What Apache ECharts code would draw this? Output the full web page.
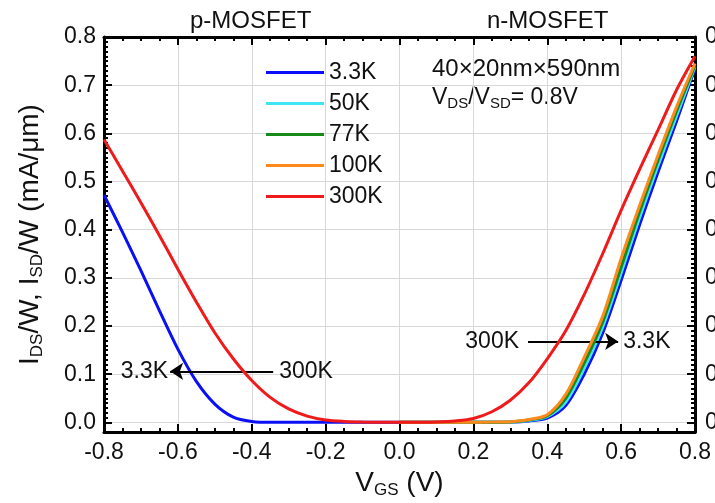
<!DOCTYPE html>
<html>
<head>
<meta charset="utf-8">
<script src="https://cdn.jsdelivr.net/npm/echarts@6/dist/echarts.min.js"></script>
<style>html,body{margin:0;padding:0;background:#fff}#c{width:715px;height:503px}</style>
</head>
<body>
<div id="c"></div>
<script>
// Gate voltage grid (V)
const vgs = [-0.8,-0.75,-0.7,-0.65,-0.6,-0.55,-0.5,-0.45,-0.4,-0.35,-0.3,-0.25,-0.2,-0.15,-0.1,-0.05,0,0.05,0.1,0.15,0.2,0.25,0.3,0.35,0.4,0.45,0.5,0.55,0.6,0.65,0.7,0.75,0.8];
// Current per width (mA/um)
const k3_3 = [0.472,0.395,0.315,0.232,0.152,0.085,0.038,0.011,0.002,0,0,0,0,0,0,0,0,0,0,0,0,0,0.0005,0.003,0.009,0.035,0.100,0.185,0.295,0.410,0.520,0.625,0.735];
const k50  = [null,null,null,null,null,null,null,null,null,null,null,null,null,null,null,null,0,0,0,0,0,0,0.0008,0.004,0.012,0.042,0.112,0.198,0.310,0.425,0.533,0.636,0.738];
const k77  = [null,null,null,null,null,null,null,null,null,null,null,null,null,null,null,null,0,0,0,0,0,0.0002,0.001,0.005,0.014,0.050,0.123,0.208,0.322,0.437,0.544,0.646,0.741];
const k100 = [null,null,null,null,null,null,null,null,null,null,null,null,null,null,null,null,0,0,0,0,0,0.0005,0.0015,0.006,0.016,0.058,0.135,0.220,0.340,0.450,0.555,0.655,0.745];
const k300 = [0.587,0.522,0.456,0.388,0.318,0.250,0.186,0.132,0.087,0.052,0.028,0.013,0.005,0.002,0.0008,0.0003,0,0.0003,0.001,0.003,0.008,0.022,0.046,0.082,0.132,0.190,0.265,0.350,0.440,0.525,0.607,0.690,0.760];

const seriesNames = ['3.3K','50K','77K','100K','300K'];
const seriesValues = [k3_3, k50, k77, k100, k300];
const seriesColors = ['#0a10f5','#3fe6f2','#178a1a','#ff8a1c','#f01a1a'];

// Tick labels
const yMajor = [0,0.1,0.2,0.3,0.4,0.5,0.6,0.7,0.8];
const yMinor = [];
for (let i = 0; i <= 80; i++) yMinor.push(i / 100);

// Arrow annotations [from, to] in data units
const arrowP = [[-0.342, 0.106], [-0.621, 0.106]];
const arrowN = [[0.348, 0.168], [0.592, 0.168]];

const FONT = 'Liberation Sans, Arial, Helvetica, sans-serif';
const chart = echarts.init(document.getElementById('c'), null, {renderer: 'canvas'});

const lineSeries = seriesNames.map((n, i) => ({
  name: n,
  type: 'line',
  data: vgs.map((x, j) => [x, seriesValues[i][j]]),
  showSymbol: false,
  symbol: 'none',
  smooth: 0.3,
  connectNulls: false,
  lineStyle: {width: 3, color: seriesColors[i]},
  itemStyle: {color: seriesColors[i]},
  z: 3 + i
}));

const labelStyle = {fontSize: 23, color: '#111', fontFamily: FONT};

lineSeries.push({
  name: 'arrows',
  type: 'line',
  data: [],
  silent: true,
  z: 10,
  markLine: {
    silent: true,
    symbol: ['none', 'arrow'],
    symbolSize: 13,
    lineStyle: {color: '#000', width: 2, type: 'solid'},
    label: {show: false},
    data: [
      [{coord: arrowP[0]}, {coord: arrowP[1]}],
      [{coord: arrowN[0]}, {coord: arrowN[1]}]
    ]
  },
  markPoint: {
    silent: true,
    symbol: 'circle',
    symbolSize: 0,
    data: [
      {coord: arrowP[0], label: {show: true, position: 'right', distance: 6, formatter: '300K', ...labelStyle}},
      {coord: arrowP[1], label: {show: true, position: 'left', distance: 2, formatter: '3.3K', ...labelStyle}},
      {coord: arrowN[0], label: {show: true, position: 'left', distance: 9, formatter: '300K', ...labelStyle}},
      {coord: arrowN[1], label: {show: true, position: 'right', distance: 5, formatter: '3.3K', ...labelStyle}}
    ]
  }
});

const richName = {
  m: {fontSize: 28, lineHeight: 32, fontFamily: FONT, color: '#111'},
  s: {fontSize: 17, lineHeight: 14, verticalAlign: 'bottom', fontFamily: FONT, color: '#111'}
};
const richInfo = {
  m: {fontSize: 23, lineHeight: 28, fontFamily: FONT, color: '#111'},
  s: {fontSize: 15, lineHeight: 12, verticalAlign: 'bottom', fontFamily: FONT, color: '#111'}
};

const axisBase = {
  min: -0.8, max: 0.8, interval: 0.2, type: 'value'
};

const option = {
  animation: false,
  backgroundColor: '#fff',
  textStyle: {fontFamily: FONT},
  grid: {left: 104, right: 20, top: 37, bottom: 71, containLabel: false, outerBoundsMode: 'none'},
  legend: {
    data: seriesNames,
    orient: 'vertical',
    left: 261, top: 56,
    icon: 'rect',
    itemWidth: 58, itemHeight: 3, itemGap: 8,
    textStyle: {fontSize: 23, color: '#111', fontFamily: FONT},
    selectedMode: false
  },
  xAxis: [
    Object.assign({}, axisBase, {
      position: 'bottom',
      name: '{m|V}{s|GS}{m| (V)}',
      nameLocation: 'middle', nameGap: 33,
      nameTextStyle: {rich: richName},
      axisLine: {show: true, onZero: false, lineStyle: {color: '#000', width: 3}},
      axisTick: {show: true, inside: true, length: 8, lineStyle: {color: '#000', width: 2}},
      minorTick: {show: true, splitNumber: 4, length: 4, lineStyle: {color: '#000', width: 2}},
      axisLabel: {fontSize: 23, color: '#111', margin: 9, formatter: v => v.toFixed(1), fontFamily: FONT},
      splitLine: {show: true, lineStyle: {color: '#d8d8d8', width: 1}}
    }),
    Object.assign({}, axisBase, {
      position: 'top',
      axisLine: {show: true, onZero: false, lineStyle: {color: '#000', width: 3}},
      axisTick: {show: true, inside: true, length: 8, lineStyle: {color: '#000', width: 2}},
      minorTick: {show: true, splitNumber: 4, length: 4, lineStyle: {color: '#000', width: 2}},
      axisLabel: {show: false},
      splitLine: {show: false}
    })
  ],
  yAxis: [
    {
      type: 'value', min: -0.02, max: 0.8, position: 'left', offset: 0,
      name: '{m|I}{s|DS}{m|/W, I}{s|SD}{m|/W (mA/μm)}',
      nameLocation: 'middle', nameGap: 58, nameRotate: 90,
      nameTextStyle: {rich: richName},
      axisLine: {show: true, onZero: false, lineStyle: {color: '#000', width: 3}},
      axisTick: {show: true, inside: true, length: 8, customValues: yMajor, lineStyle: {color: '#000', width: 2}},
      axisLabel: {fontSize: 23, color: '#111', margin: 8, customValues: yMajor, formatter: v => v.toFixed(1), fontFamily: FONT},
      splitLine: {show: true, lineStyle: {color: '#d8d8d8', width: 1}}
    },
    {
      type: 'value', min: -0.02, max: 0.8, position: 'left', offset: 0,
      axisLine: {show: false, onZero: false},
      axisTick: {show: true, inside: true, length: 4, customValues: yMinor, lineStyle: {color: '#000', width: 2}},
      axisLabel: {show: false},
      splitLine: {show: false}
    },
    {
      type: 'value', min: -0.02, max: 0.8, position: 'right', offset: 0,
      axisLine: {show: true, onZero: false, lineStyle: {color: '#000', width: 3}},
      axisTick: {show: true, inside: true, length: 8, customValues: yMajor, lineStyle: {color: '#000', width: 2}},
      axisLabel: {fontSize: 23, color: '#111', margin: 10, align: 'left', customValues: yMajor, formatter: v => v.toFixed(1), fontFamily: FONT},
      splitLine: {show: false}
    },
    {
      type: 'value', min: -0.02, max: 0.8, position: 'right', offset: 0,
      axisLine: {show: false, onZero: false},
      axisTick: {show: true, inside: true, length: 4, customValues: yMinor, lineStyle: {color: '#000', width: 2}},
      axisLabel: {show: false},
      splitLine: {show: false}
    }
  ],
  graphic: [
    {type: 'text', left: 190, top: 9, silent: true,
     style: {text: 'p-MOSFET', fontSize: 24, fontFamily: FONT, fill: '#111'}},
    {type: 'text', left: 487, top: 9, silent: true,
     style: {text: 'n-MOSFET', fontSize: 24, fontFamily: FONT, fill: '#111'}},
    {type: 'text', left: 432, top: 57, silent: true,
     style: {text: '40×20nm×590nm', fontSize: 24, fontFamily: FONT, fill: '#111'}},
    {type: 'text', left: 432, top: 86, silent: true,
     style: {text: '{m|V}{s|DS}{m|/V}{s|SD}{m|= 0.8V}', rich: richInfo, fill: '#111'}}
  ],
  series: lineSeries
};
chart.setOption(option);
</script>
</body>
</html>
